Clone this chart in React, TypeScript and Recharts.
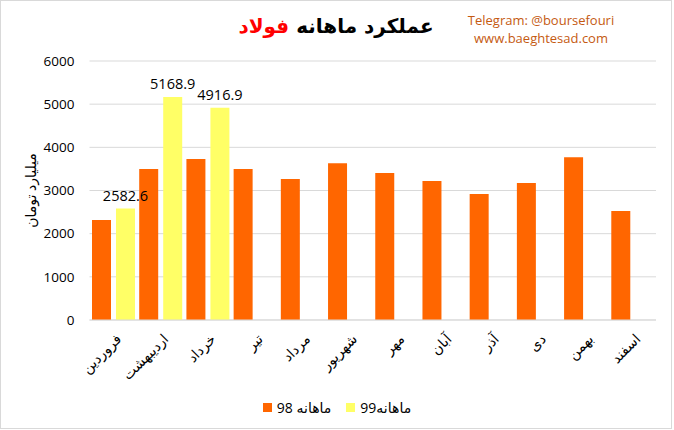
import React from "react";
import { BarChart, Bar, XAxis, YAxis, CartesianGrid, Legend, LabelList, Text } from "recharts";

const months = ["فروردین", "اردیبهشت", "خرداد", "تیر", "مرداد", "شهریور", "مهر", "آبان", "آذر", "دی", "بهمن", "اسفند"];
const sales98 = [2315, 3500, 3727, 3500, 3264, 3634, 3403, 3218, 2917, 3171, 3773, 2523];
const sales99: (number | null)[] = [2582.6, 5168.9, 4916.9, null, null, null, null, null, null, null, null, null];
const yTicks = [0, 1000, 2000, 3000, 4000, 5000, 6000];
const name98 = "ماهانه 98";
const name99 = "ماهانه99";
const titleMain = "عملکرد ماهانه ";
const titleRed = "فولاد";
const yLabel = "میلیارد تومان";
const telegram = "Telegram: @boursefouri";
const website = "www.baeghtesad.com";

const data = months.map((m, i) => ({ month: m, s98: sales98[i], s99: sales99[i] }));

const FONT = "'Open Sans', 'DejaVu Sans', sans-serif";
const ORANGE = "#FF6600";
const YELLOW = "#FFFF66";
const GRID = "#D9D9D9";

const XTick = (props: any) => {
  const { x, y, payload } = props;
  return (
    <Text x={x + 2} y={y} angle={-45} textAnchor="end" verticalAnchor="start" fontSize={14} fill="#000" fontFamily={FONT}>
      {payload.value}
    </Text>
  );
};

const LegendContent = (props: any) => {
  const { payload } = props;
  return (
    <div style={{ display: "flex", justifyContent: "center", alignItems: "center", fontFamily: FONT, fontSize: 14, color: "#000" }}>
      {payload.map((p: any, i: number) => (
        <div key={i} style={{ display: "flex", alignItems: "center", marginRight: i === 0 ? 15 : 0 }}>
          <span style={{ display: "inline-block", width: 9, height: 9, background: p.color, marginRight: 5 }} />
          <span>{p.value}</span>
        </div>
      ))}
    </div>
  );
};

export default function App() {
  return (
    <div style={{ position: "absolute", left: 0, top: 0, width: 674, height: 430, background: "#fff", fontFamily: FONT }}>
      <div style={{ position: "absolute", left: 0, top: 0, width: 670, height: 427, border: `1px solid ${GRID}` }} />
      <BarChart
        width={674}
        height={430}
        data={data}
        margin={{ top: 61, right: 18, left: 29.5, bottom: 50 }}
        barCategoryGap={2.5}
        barGap={5}
      >
        <CartesianGrid vertical={false} stroke={GRID} strokeWidth={1} />
        <XAxis
          dataKey="month"
          height={60}
          axisLine={{ stroke: GRID }}
          tickLine={false}
          tickSize={0}
          tickMargin={13}
          interval={0}
          tick={<XTick />}
        />
        <YAxis
          width={60}
          domain={[0, 6000]}
          ticks={yTicks}
          axisLine={false}
          tickLine={false}
          tickSize={0}
          tickMargin={15}
          tick={{ fontSize: 13.5, fill: "#000", fontFamily: FONT }}
          label={{
            content: (p: any) => {
              const vb = p.viewBox;
              return (
                <text
                  x={vb.x + 1}
                  y={vb.y + vb.height / 2}
                  transform={`rotate(-90 ${vb.x + 1} ${vb.y + vb.height / 2})`}
                  textAnchor="middle"
                  dominantBaseline="central"
                  fontSize={14}
                  fill="#000"
                  fontFamily={FONT}
                >
                  {yLabel}
                </text>
              );
            },
          }}
        />
        <Legend
          layout="horizontal"
          verticalAlign="middle"
          align="center"
          wrapperStyle={{ top: 398, left: 0, width: 674 }}
          content={<LegendContent />}
        />
        <Bar dataKey="s98" name={name98} fill={ORANGE} isAnimationActive={false} />
        <Bar dataKey="s99" name={name99} fill={YELLOW} isAnimationActive={false}>
          <LabelList
            dataKey="s99"
            position="top"
            offset={8}
            fontSize={14.5}
            fill="#000"
            fontFamily={FONT}
            formatter={(v: any) => (v == null ? "" : v)}
          />
        </Bar>
      </BarChart>
      <div
        style={{
          position: "absolute",
          left: 236,
          width: 200,
          top: 12,
          textAlign: "center",
          fontSize: 20,
          fontWeight: "bold",
          color: "#000",
          direction: "rtl",
          lineHeight: "28px",
          fontFamily: "'DejaVu Sans', sans-serif",
        }}
      >
        <span>{titleMain}</span>
        <span style={{ color: "#FF0000" }}>{titleRed}</span>
      </div>
      <div
        style={{
          position: "absolute",
          left: 441,
          width: 200,
          top: 11,
          textAlign: "center",
          fontSize: 13,
          color: "#C55A11",
          lineHeight: "18px",
          fontFamily: FONT,
        }}
      >
        <div>{telegram}</div>
        <div>{website}</div>
      </div>
    </div>
  );
}
